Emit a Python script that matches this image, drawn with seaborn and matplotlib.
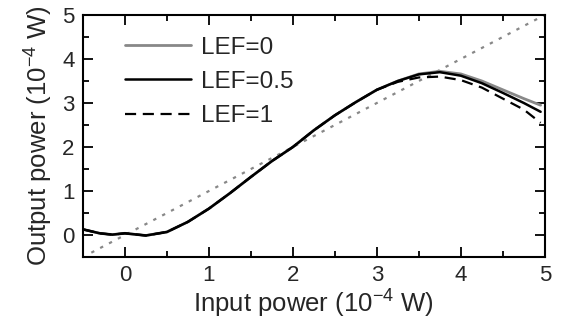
import numpy as np
import matplotlib
matplotlib.use('Agg')
import matplotlib.pyplot as plt
import pandas as pd
import seaborn as sns
from matplotlib.ticker import MultipleLocator

# values (units of 1e-4 W)
input_power = [-0.5, -0.3, -0.15, 0.0, 0.1, 0.25, 0.5, 0.75, 1.0, 1.25, 1.5, 1.75, 2.0,
               2.25, 2.5, 2.75, 3.0, 3.25, 3.5, 3.75, 4.0, 4.25, 4.5, 4.75, 4.95]
lef_0 = [0.13, 0.04, 0.01, 0.04, 0.02, -0.01, 0.07, 0.3, 0.6, 0.95, 1.32, 1.68, 2.0,
         2.38, 2.72, 3.02, 3.3, 3.5, 3.66, 3.72, 3.66, 3.5, 3.3, 3.1, 2.95]
lef_05 = [0.13, 0.04, 0.01, 0.04, 0.02, -0.01, 0.07, 0.3, 0.6, 0.95, 1.32, 1.68, 2.0,
          2.38, 2.72, 3.02, 3.3, 3.5, 3.65, 3.7, 3.62, 3.45, 3.23, 3.0, 2.8]
lef_1 = [0.13, 0.04, 0.01, 0.04, 0.02, -0.01, 0.07, 0.3, 0.6, 0.95, 1.32, 1.68, 2.0,
         2.38, 2.72, 3.02, 3.3, 3.48, 3.58, 3.6, 3.52, 3.35, 3.1, 2.85, 2.55]
diag_x = [-0.4, 5.0]
diag_y = [-0.4, 5.0]

sns.set_style("ticks")
plt.rcParams['font.family'] = ['Liberation Sans', 'DejaVu Sans']
plt.rcParams['mathtext.fontset'] = 'custom'
plt.rcParams['mathtext.rm'] = 'Liberation Sans'
plt.rcParams['mathtext.it'] = 'Liberation Sans'

fig = plt.figure(figsize=(5.64, 3.25), dpi=100)
ax = fig.add_axes([0.147, 0.209, 0.819, 0.745])

sns.lineplot(x=diag_x, y=diag_y, ax=ax, color='#888888', linestyle=(0, (1.5, 3)), lw=1.6)
sns.lineplot(x=input_power, y=lef_0, ax=ax, color='#888888', lw=2, label='LEF=0')
sns.lineplot(x=input_power, y=lef_05, ax=ax, color='black', lw=1.8, label='LEF=0.5')
sns.lineplot(x=input_power, y=lef_1, ax=ax, color='black', lw=1.6, linestyle=(0, (5, 3)), label='LEF=1')

ax.set_xlim(-0.5, 5)
ax.set_ylim(-0.5, 5)
ax.xaxis.set_major_locator(MultipleLocator(1))
ax.xaxis.set_minor_locator(MultipleLocator(0.5))
ax.yaxis.set_major_locator(MultipleLocator(1))
ax.yaxis.set_minor_locator(MultipleLocator(0.5))
ax.tick_params(which='both', direction='in', top=True, right=True, labelsize=16, width=1.3, color='black')
ax.tick_params(which='major', length=7, pad=6)
ax.tick_params(which='minor', length=4)
for s in ax.spines.values():
    s.set_linewidth(1.5)
    s.set_color('black')

ax.set_xlabel('Input power (10$^{-4}$ W)', fontsize=18.5, labelpad=1)
ax.set_ylabel('Output power (10$^{-4}$ W)', fontsize=18.5, labelpad=5)

ax.legend(loc='upper left', frameon=False, fontsize=17.5, handlelength=2.7,
          handletextpad=0.4, labelspacing=0.5, borderaxespad=0.2, bbox_to_anchor=(0.06, 0.97))

plt.savefig('out.png', dpi=100)
